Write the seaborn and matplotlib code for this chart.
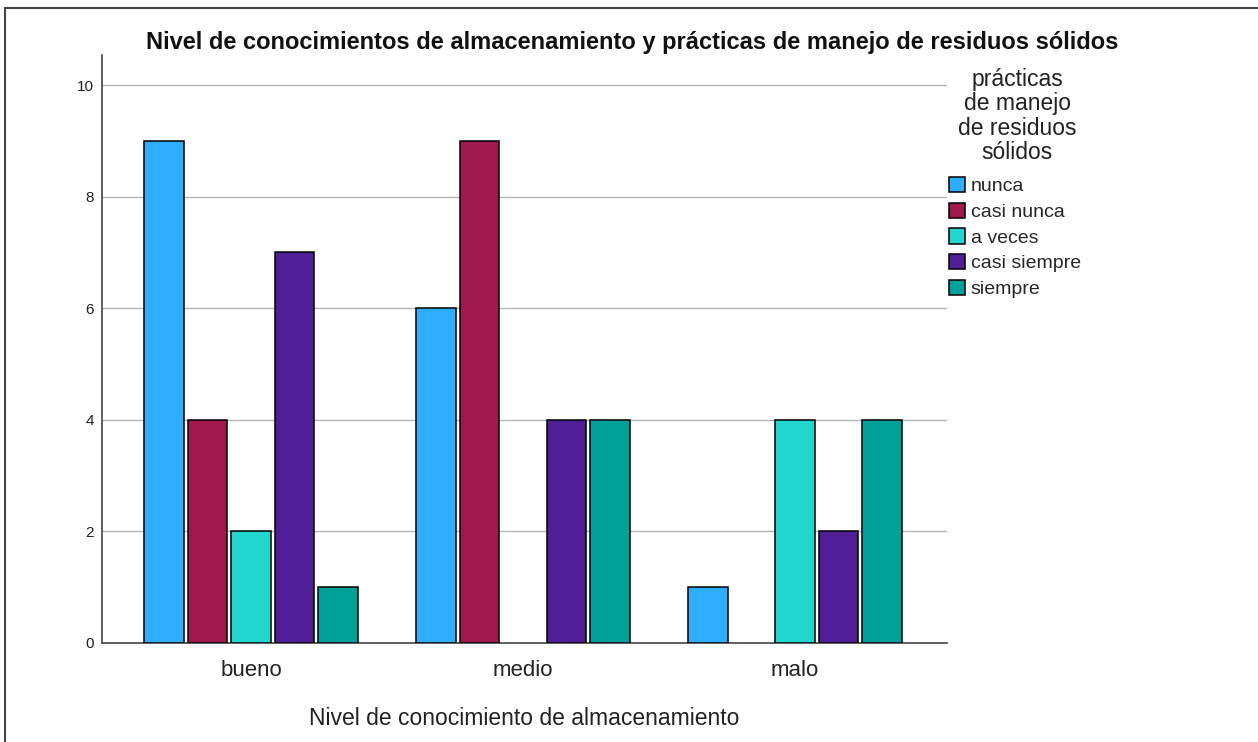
import matplotlib
matplotlib.use("Agg")
import matplotlib.pyplot as plt
from matplotlib.patches import Rectangle
import seaborn as sns
import pandas as pd

categorias = ["bueno", "medio", "malo"]
practicas = ["nunca", "casi nunca", "a veces", "casi siempre", "siempre"]
nunca = [9, 6, 1]
casi_nunca = [4, 9, 0]
a_veces = [2, 0, 4]
casi_siempre = [7, 4, 2]
siempre = [1, 4, 4]
colores = ["#2EADFF", "#A0194C", "#22D6D0", "#501E96", "#00A09A"]
yticks = [0, 2, 4, 6, 8, 10]

series = [nunca, casi_nunca, a_veces, casi_siempre, siempre]
rows = []
for p, vals in zip(practicas, series):
    for c, v in zip(categorias, vals):
        rows.append({"nivel": c, "practica": p, "n": v})
df = pd.DataFrame(rows)
df = df[df["n"] > 0]

sns.set_theme(style="white")
plt.rcParams["font.family"] = ["Liberation Sans", "DejaVu Sans"]

fig = plt.figure(figsize=(12.58, 7.42), dpi=100)
ax = fig.add_axes([102/1258, 1-643/742, (947-102)/1258, (643-55)/742])

sns.barplot(data=df, x="nivel", y="n", hue="practica", order=categorias,
            hue_order=practicas, palette=colores, saturation=1, gap=0.1, width=0.8,
            edgecolor="black", linewidth=1.1, ax=ax, zorder=3)

ax.set_xlim(-0.548, 2.559)
ax.set_ylim(0, 10.54)
ax.set_yticks(yticks)
ax.set_yticklabels([str(t) for t in yticks], fontsize=11, color="#222222")
for t in yticks[1:]:
    ax.axhline(t, color="#b4b4b4", lw=1.0, zorder=1)
ax.tick_params(axis="both", length=0)
ax.tick_params(axis="y", pad=6)
ax.tick_params(axis="x", pad=12, labelsize=16, labelcolor="#222222")
ax.set_xlabel("Nivel de conocimiento de almacenamiento", fontsize=16.5,
              color="#222222", labelpad=19)
ax.set_ylabel("")
for s in ["top", "right"]:
    ax.spines[s].set_visible(False)
for s in ["left", "bottom"]:
    ax.spines[s].set_color("#444444")
    ax.spines[s].set_linewidth(1.2)

handles, labels = ax.get_legend_handles_labels()
ax.legend(handles, labels,
          loc="upper left", bbox_to_anchor=(949/1258, 1-177/742),
          bbox_transform=fig.transFigure, frameon=False, fontsize=14,
          handlelength=0.82, handleheight=0.82,
          handletextpad=0.3, labelspacing=0.38, borderpad=0, borderaxespad=0)
fig.text(1017/1258, 1-116/742, "prácticas\nde manejo\nde residuos\nsólidos",
         ha="center", va="center", multialignment="center", linespacing=1.06,
         fontsize=16.5, color="#222222")

fig.text(632/1258, 1-42/742,
         "Nivel de conocimientos de almacenamiento y prácticas de manejo de residuos sólidos",
         ha="center", va="center", fontsize=17, fontweight="bold", color="#111111")

fig.patches.append(Rectangle((5/1258, -0.1), 1.2, 1.1 - 8/742, transform=fig.transFigure,
                             fill=False, edgecolor="#444444", lw=1.5))

fig.savefig("out.png", dpi=100)
